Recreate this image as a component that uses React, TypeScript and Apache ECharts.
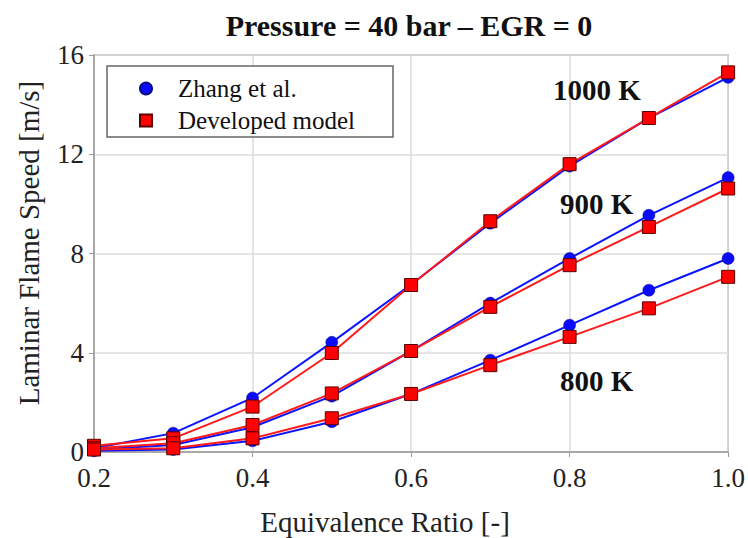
import React, { useEffect, useRef } from "react";
import * as echarts from "echarts";

const ratios = [0.2, 0.3, 0.4, 0.5, 0.6, 0.7, 0.8, 0.9, 1.0];
const zhang800 = [0.05, 0.1, 0.45, 1.22, 2.34, 3.7, 5.11, 6.52, 7.8];
const model800 = [0.1, 0.15, 0.55, 1.36, 2.34, 3.5, 4.64, 5.79, 7.06];
const zhang900 = [0.1, 0.28, 1.0, 2.25, 4.07, 6.0, 7.8, 9.54, 11.06];
const model900 = [0.15, 0.35, 1.09, 2.36, 4.07, 5.85, 7.53, 9.07, 10.62];
const zhang1000 = [0.15, 0.76, 2.18, 4.42, 6.75, 9.22, 11.52, 13.46, 15.1];
const model1000 = [0.25, 0.55, 1.83, 3.99, 6.73, 9.3, 11.6, 13.46, 15.3];
const xTicks = ["0.2", "0.4", "0.6", "0.8", "1.0"];
const yTicks = ["0", "4", "8", "12", "16"];
const legendNames = ["Zhang et al.", "Developed model"];
const tempLabels = ["1000 K", "900 K", "800 K"];

const FONT = "Liberation Serif";

export default function App() {
  const ref = useRef<HTMLDivElement>(null);
  useEffect(() => {
    if (!ref.current) return;
    const chart = echarts.init(ref.current, null, { renderer: "svg" });
    const pair = (vals: number[]) => ratios.map((r, i) => [r, vals[i]]);
    const blue = (vals: number[]) => ({
      type: "line",
      name: legendNames[0],
      data: pair(vals),
      symbol: "circle",
      symbolSize: 12,
      lineStyle: { color: "#0a14ff", width: 2 },
      itemStyle: { color: "#0a0aff", borderColor: "#0a0a80", borderWidth: 0.5 },
      z: 2,
    });
    const red = (vals: number[]) => ({
      type: "line",
      name: legendNames[1],
      data: pair(vals),
      symbol: "rect",
      symbolSize: 13,
      lineStyle: { color: "#ff1a1a", width: 2 },
      itemStyle: { color: "#ff0000", borderColor: "#5a0000", borderWidth: 1 },
      z: 3,
    });
    chart.setOption({
      animation: false,
      backgroundColor: "#ffffff",
      textStyle: { fontFamily: FONT },
      grid: {
        left: 94,
        right: 18,
        top: 55,
        bottom: 86,
        show: true,
        borderColor: "#9a9a9a",
        borderWidth: 1.5,
      },
      title: {
        text: "Pressure = 40 bar \u2013 EGR = 0",
        left: 404,
        textAlign: "center",
        top: 5,
        textStyle: { fontFamily: FONT, fontSize: 30, fontWeight: "bold", color: "#111" },
      },
      legend: {
        orient: "vertical",
        left: 139,
        top: 76,
        padding: 0,
        itemGap: 7,
        itemWidth: 12,
        itemHeight: 12,
        z: 20,
        data: [
          { name: legendNames[0], icon: "circle" },
          { name: legendNames[1], icon: "rect" },
        ],
        textStyle: { fontFamily: FONT, fontSize: 25, color: "#111", lineHeight: 24, padding: [0, 0, 0, 21] },
      },
      xAxis: {
        type: "value",
        min: 0.2,
        max: 1.0,
        interval: 0.2,
        axisLine: { show: true, lineStyle: { color: "#9a9a9a", width: 1.5 } },
        axisTick: { show: true, length: 5, lineStyle: { color: "#9a9a9a" } },
        splitLine: { show: true, lineStyle: { color: "#dcdcdc", width: 1.5 } },
        axisLabel: {
          margin: 12,
          fontFamily: FONT,
          fontSize: 27,
          color: "#222",
          formatter: (v: number) => {
            const s = v.toFixed(1);
            return xTicks.includes(s) ? s : "";
          },
        },
      },
      yAxis: {
        type: "value",
        min: 0,
        max: 16,
        interval: 4,
        axisLine: { show: true, lineStyle: { color: "#9a9a9a", width: 1.5 } },
        axisTick: { show: true, length: 5, lineStyle: { color: "#9a9a9a" } },
        splitLine: { show: true, lineStyle: { color: "#dcdcdc", width: 1.5 } },
        axisLabel: {
          margin: 10,
          fontFamily: FONT,
          fontSize: 27,
          color: "#222",
          formatter: (v: number) => {
            const s = String(Math.round(v));
            return yTicks.includes(s) ? s : "";
          },
        },
      },
      graphic: [
        {
          type: "rect",
          shape: { x: 107, y: 66, width: 286, height: 71 },
          style: { fill: "#ffffff", stroke: "#666666", lineWidth: 1.5 },
          z: 1,
        },
        {
          type: "text",
          x: 385,
          y: 522,
          style: {
            text: "Equivalence Ratio [-]",
            fontFamily: FONT,
            fontSize: 29,
            fill: "#222",
            align: "center",
            verticalAlign: "middle",
          },
        },
        {
          type: "text",
          x: 29,
          y: 243,
          rotation: Math.PI / 2,
          style: {
            text: "Laminar Flame Speed [m/s]",
            fontFamily: FONT,
            fontSize: 29,
            fill: "#222",
            align: "center",
            verticalAlign: "middle",
          },
        },
        {
          type: "text",
          x: 553,
          y: 90,
          style: { text: tempLabels[0], fontFamily: FONT, fontSize: 29, fontWeight: "bold", fill: "#111", verticalAlign: "middle" },
          z: 20,
        },
        {
          type: "text",
          x: 560,
          y: 204,
          style: { text: tempLabels[1], fontFamily: FONT, fontSize: 29, fontWeight: "bold", fill: "#111", verticalAlign: "middle" },
          z: 20,
        },
        {
          type: "text",
          x: 560,
          y: 381,
          style: { text: tempLabels[2], fontFamily: FONT, fontSize: 29, fontWeight: "bold", fill: "#111", verticalAlign: "middle" },
          z: 20,
        },
      ],
      series: [
        blue(zhang1000),
        blue(zhang900),
        blue(zhang800),
        red(model1000),
        red(model900),
        red(model800),
      ],
    });
    return () => chart.dispose();
  }, []);
  return (
    <div
      ref={ref}
      style={{ position: "fixed", left: 0, top: 0, width: 748, height: 538 }}
    />
  );
}
